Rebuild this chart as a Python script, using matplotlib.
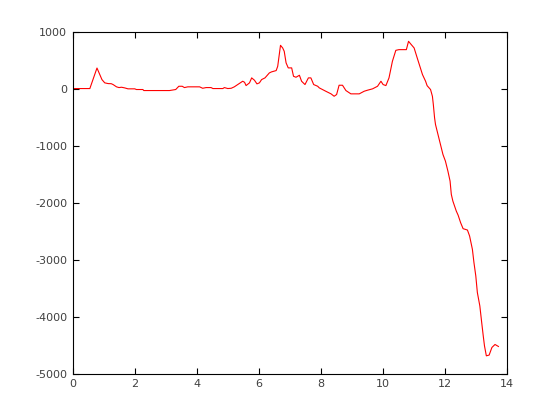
import numpy as np
import matplotlib.pyplot as plt

plt.rcParams['axes.unicode_minus'] = False

# values
t = [0.0, 0.55, 0.78, 0.94, 1.03, 1.14, 1.24, 1.30, 1.41, 1.49, 1.57, 1.67, 1.78,
     2.0, 2.05, 2.26, 2.29, 3.12, 3.32, 3.42, 3.53, 3.60, 3.71, 4.09, 4.19, 4.30,
     4.46, 4.52, 4.84, 4.89, 5.0, 5.11, 5.21, 5.32, 5.48, 5.54, 5.59, 5.70, 5.77,
     5.86, 5.94, 6.02, 6.09, 6.20, 6.34, 6.41, 6.56, 6.61, 6.66, 6.70, 6.77, 6.82,
     6.88, 6.95, 7.06, 7.12, 7.20, 7.31, 7.38, 7.49, 7.60, 7.68, 7.77, 7.90, 7.95,
     8.16, 8.33, 8.43, 8.51, 8.59, 8.70, 8.81, 8.97, 9.24, 9.40, 9.50, 9.67, 9.83,
     9.94, 10.01, 10.10, 10.20, 10.31, 10.42, 10.52, 10.76, 10.83, 10.90, 11.01,
     11.11, 11.28, 11.38, 11.43, 11.54, 11.60, 11.63, 11.67, 11.70, 11.78, 11.86,
     11.94, 12.02, 12.10, 12.17, 12.21, 12.26, 12.37, 12.43, 12.51, 12.59, 12.73,
     12.80, 12.89, 12.94, 13.00, 13.05, 13.13, 13.19, 13.24, 13.28, 13.34, 13.43,
     13.52, 13.62, 13.73]
val = [0, 0, 360, 157, 100, 87, 85, 70, 30, 17, 23, 12, -5,
       -5, -17, -17, -35, -35, -17, 40, 40, 17, 30, 30, 5, 17,
       17, 0, 0, 17, 0, 5, 30, 70, 128, 110, 52, 100, 187,
       146, 82, 100, 157, 187, 274, 292, 315, 390, 595, 758, 712, 653,
       450, 362, 362, 215, 198, 233, 128, 70, 187, 187, 70, 40, 12,
       -47, -93, -135, -105, 58, 58, -35, -93, -93, -47, -30, -5, 40,
       128, 70, 52, 187, 478, 670, 682, 682, 828, 782, 712,
       537, 245, 128, 50, -17, -135, -280, -513, -630, -805, -980,
       -1155, -1272, -1447, -1622, -1855, -1972, -2147, -2220, -2351, -2456, -2480,
       -2585, -2818, -3050, -3285, -3575, -3810, -4100, -4335, -4510, -4685, -4672,
       -4538, -4486, -4521]

fig = plt.figure(figsize=(5.6, 4.2), dpi=100)
ax = fig.add_axes([0.13, 0.11, 0.775, 0.815])
ax.plot(t, val, color='red', lw=0.8)

ax.set_xlim(0, 14)
ax.set_ylim(-5000, 1000)
ax.set_xticks(np.arange(0, 15, 2))
ax.set_yticks(np.arange(-5000, 1001, 1000))
ax.tick_params(direction='in', top=True, right=True, length=4, width=0.8,
               labelsize=8, labelcolor='#404040', pad=4)
for s in ax.spines.values():
    s.set_linewidth(0.8)

plt.savefig('out.png')
